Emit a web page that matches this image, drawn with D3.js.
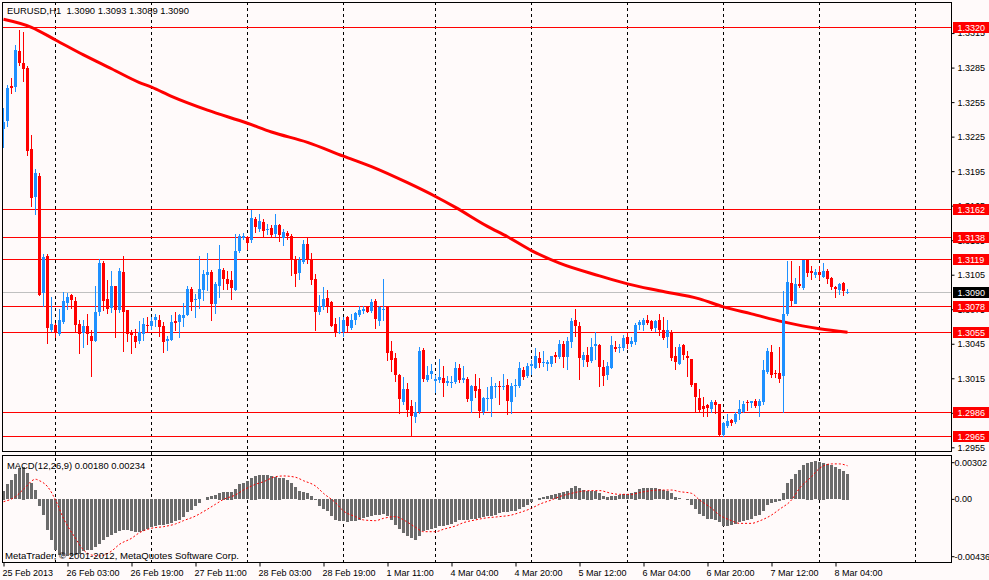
<!DOCTYPE html>
<html>
<head>
<meta charset="utf-8">
<script src="https://cdn.jsdelivr.net/npm/d3@7"></script>
<style>
body { margin: 0; background: #fffafa; }
text { font-family: "Liberation Sans", Arial, sans-serif; }
</style>
</head>
<body>
<script>
var w = 989;
var h = 580;

// EURUSD H1 candles, bar 0 = 25 Feb 2013 11:00
var opens = [1.3232,1.3238,1.3269,1.3268,1.3299,1.3289,1.3285,1.3214,1.3172,1.3191,
1.3089,1.3121,1.3057,1.3061,1.3054,1.3064,1.3081,1.3087,1.3082,1.3062,
1.3054,1.3060,1.3052,1.3048,1.3072,1.3115,1.3084,1.3076,1.3095,1.3074,
1.3107,1.3074,1.3055,1.3052,1.3047,1.3053,1.3061,1.3061,1.3065,1.3066,
1.3060,1.3047,1.3048,1.3065,1.3064,1.3067,1.3070,1.3093,1.3083,1.3084,
1.3092,1.3104,1.3107,1.3080,1.3095,1.3109,1.3101,1.3100,1.3092,1.3126,
1.3137,1.3137,1.3135,1.3153,1.3145,1.3151,1.3144,1.3146,1.3140,1.3148,
1.3137,1.3141,1.3139,1.3119,1.3107,1.3116,1.3132,1.3118,1.3101,1.3073,
1.3077,1.3085,1.3081,1.3062,1.3054,1.3056,1.3068,1.3059,1.3066,1.3070,
1.3073,1.3077,1.3073,1.3082,1.3065,1.3074,1.3077,1.3039,1.3033,1.3018,
1.2995,1.3006,1.2991,1.2982,1.2986,1.3040,1.3014,1.3018,1.3012,1.3013,
1.3015,1.3011,1.3011,1.3012,1.3024,1.3013,1.3014,1.2995,1.3008,1.3006,
1.2986,1.2997,1.2997,1.3007,1.3008,1.3007,1.3009,1.2994,1.3008,1.3008,
1.3022,1.3017,1.3025,1.3024,1.3033,1.3028,1.3027,1.3027,1.3035,1.3034,
1.3045,1.3033,1.3047,1.3066,1.3060,1.3031,1.3035,1.3030,1.3043,1.3044,
1.3025,1.3018,1.3024,1.3042,1.3041,1.3041,1.3051,1.3044,1.3046,1.3061,
1.3062,1.3066,1.3065,1.3059,1.3066,1.3057,1.3051,1.3055,1.3034,1.3027,
1.3044,1.3034,1.3032,1.3011,1.2998,1.2991,1.2992,1.2988,1.2994,1.2993,
1.2966,1.2974,1.2979,1.2977,1.2984,1.2986,1.2994,1.2993,1.2995,1.2991,
1.2994,1.3021,1.3038,1.3020,1.3020,1.3017,1.3071,1.3098,1.3080,1.3097,
1.3094,1.3118,1.3108,1.3104,1.3107,1.3103,1.3108,1.3102,1.3094,1.3092,
1.3098,1.3090];
var highs = [1.3250,1.3270,1.3276,1.3305,1.3318,1.3316,1.3286,1.3226,1.3197,1.3193,
1.3123,1.3123,1.3086,1.3063,1.3075,1.3090,1.3089,1.3088,1.3086,1.3066,
1.3066,1.3071,1.3057,1.3095,1.3119,1.3117,1.3100,1.3108,1.3095,1.3111,
1.3121,1.3074,1.3057,1.3058,1.3065,1.3067,1.3068,1.3068,1.3071,1.3070,
1.3064,1.3052,1.3070,1.3073,1.3071,1.3080,1.3095,1.3094,1.3088,1.3121,
1.3109,1.3124,1.3109,1.3099,1.3131,1.3111,1.3108,1.3108,1.3140,1.3140,
1.3141,1.3139,1.3161,1.3155,1.3158,1.3153,1.3149,1.3148,1.3158,1.3149,
1.3145,1.3143,1.3140,1.3121,1.3120,1.3135,1.3138,1.3124,1.3106,1.3087,
1.3094,1.3092,1.3082,1.3067,1.3068,1.3068,1.3069,1.3071,1.3073,1.3078,
1.3078,1.3077,1.3084,1.3084,1.3078,1.3101,1.3078,1.3047,1.3037,1.3019,
1.3016,1.3011,1.2996,1.2994,1.3042,1.3041,1.3026,1.3027,1.3018,1.3032,
1.3026,1.3017,1.3017,1.3029,1.3027,1.3026,1.3016,1.3009,1.3019,1.3015,
1.2999,1.3007,1.3016,1.3011,1.3013,1.3019,1.3014,1.3011,1.3014,1.3029,
1.3025,1.3028,1.3031,1.3041,1.3038,1.3039,1.3031,1.3034,1.3038,1.3048,
1.3047,1.3051,1.3067,1.3075,1.3064,1.3038,1.3042,1.3050,1.3055,1.3045,
1.3031,1.3029,1.3052,1.3047,1.3045,1.3053,1.3055,1.3051,1.3063,1.3066,
1.3067,1.3070,1.3066,1.3066,1.3071,1.3068,1.3066,1.3057,1.3042,1.3045,
1.3045,1.3039,1.3032,1.3011,1.3006,1.2999,1.2993,1.2996,1.2996,1.2993,
1.2977,1.2984,1.2980,1.2986,1.2996,1.2995,1.2996,1.2995,1.2997,1.2997,
1.3031,1.3041,1.3044,1.3022,1.3042,1.3091,1.3117,1.3117,1.3102,1.3113,
1.3118,1.3119,1.3113,1.3110,1.3113,1.3115,1.3110,1.3103,1.3095,1.3098,
1.3099,1.3093];
var lows = [1.3216,1.3234,1.3263,1.3265,1.3287,1.3273,1.3209,1.3165,1.3158,1.3087,
1.3078,1.3046,1.3056,1.3051,1.3053,1.3063,1.3075,1.3076,1.3055,1.3037,
1.3042,1.3045,1.3017,1.3047,1.3070,1.3074,1.3072,1.3073,1.3051,1.3073,
1.3039,1.3047,1.3037,1.3042,1.3046,1.3048,1.3056,1.3058,1.3060,1.3052,
1.3038,1.3040,1.3048,1.3057,1.3051,1.3060,1.3070,1.3074,1.3068,1.3076,
1.3083,1.3092,1.3066,1.3072,1.3086,1.3093,1.3093,1.3084,1.3092,1.3125,
1.3136,1.3127,1.3133,1.3142,1.3143,1.3139,1.3140,1.3139,1.3139,1.3134,
1.3131,1.3136,1.3105,1.3095,1.3101,1.3115,1.3115,1.3097,1.3057,1.3071,
1.3075,1.3073,1.3060,1.3052,1.3054,1.3052,1.3056,1.3058,1.3062,1.3069,
1.3072,1.3073,1.3073,1.3059,1.3061,1.3066,1.3031,1.3021,1.3013,1.2985,
1.2993,1.2982,1.2965,1.2977,1.2985,1.3013,1.3013,1.3015,1.3003,1.3012,
1.3000,1.3009,1.3007,1.3011,1.3012,1.3012,1.2995,1.2986,1.2999,1.2981,
1.2984,1.2987,1.2982,1.2999,1.2993,1.3006,1.2984,1.2985,1.3000,1.3007,
1.3014,1.3016,1.3019,1.3024,1.3025,1.3026,1.3022,1.3026,1.3029,1.3033,
1.3025,1.3023,1.3042,1.3052,1.3014,1.3026,1.3026,1.3029,1.3032,1.3008,
1.3009,1.3014,1.3024,1.3039,1.3038,1.3040,1.3041,1.3043,1.3045,1.3058,
1.3057,1.3062,1.3057,1.3056,1.3053,1.3049,1.3042,1.3031,1.3023,1.3027,
1.3032,1.3017,1.3008,1.2986,1.2986,1.2982,1.2982,1.2986,1.2985,1.2965,
1.2965,1.2973,1.2974,1.2976,1.2980,1.2986,1.2987,1.2990,1.2990,1.2982,
1.2993,1.3020,1.3016,1.3016,1.3012,1.2986,1.3070,1.3079,1.3080,1.3094,
1.3093,1.3104,1.3101,1.3103,1.3101,1.3103,1.3098,1.3093,1.3086,1.3088,
1.3087,1.3089];
var closes = [1.3238,1.3267,1.3267,1.3300,1.3289,1.3284,1.3213,1.3171,1.3193,1.3088,
1.3120,1.3058,1.3062,1.3055,1.3066,1.3082,1.3086,1.3083,1.3061,1.3053,
1.3060,1.3053,1.3048,1.3073,1.3115,1.3082,1.3075,1.3095,1.3074,1.3108,
1.3072,1.3053,1.3052,1.3047,1.3055,1.3062,1.3060,1.3065,1.3068,1.3060,
1.3046,1.3049,1.3064,1.3063,1.3070,1.3070,1.3093,1.3082,1.3084,1.3093,
1.3106,1.3107,1.3079,1.3097,1.3110,1.3101,1.3097,1.3093,1.3126,1.3139,
1.3139,1.3133,1.3154,1.3146,1.3152,1.3143,1.3145,1.3140,1.3148,1.3139,
1.3142,1.3138,1.3118,1.3106,1.3118,1.3132,1.3118,1.3101,1.3072,1.3078,
1.3084,1.3078,1.3060,1.3055,1.3055,1.3066,1.3060,1.3066,1.3072,1.3074,
1.3075,1.3073,1.3081,1.3066,1.3077,1.3075,1.3037,1.3031,1.3018,1.2997,
1.3006,1.2988,1.2982,1.2986,1.3039,1.3015,1.3018,1.3021,1.3014,1.3016,
1.3011,1.3013,1.3012,1.3024,1.3014,1.3015,1.2997,1.3008,1.3004,1.2987,
1.2998,1.2998,1.3008,1.3008,1.3007,1.3008,1.2995,1.3008,1.3009,1.3024,
1.3016,1.3026,1.3027,1.3034,1.3029,1.3029,1.3029,1.3034,1.3033,1.3045,
1.3034,1.3047,1.3065,1.3061,1.3032,1.3035,1.3029,1.3042,1.3045,1.3025,
1.3017,1.3026,1.3044,1.3040,1.3042,1.3050,1.3045,1.3047,1.3061,1.3064,
1.3066,1.3063,1.3058,1.3065,1.3057,1.3050,1.3057,1.3032,1.3029,1.3042,
1.3035,1.3032,1.3009,1.2999,1.2988,1.2988,1.2989,1.2994,1.2991,1.2966,
1.2976,1.2978,1.2976,1.2984,1.2988,1.2993,1.2993,1.2995,1.2991,1.2995,
1.3022,1.3039,1.3018,1.3019,1.3015,1.3071,1.3099,1.3082,1.3097,1.3095,
1.3118,1.3107,1.3106,1.3107,1.3104,1.3108,1.3101,1.3094,1.3092,1.3097,
1.3091,1.3090];

var maBars = [0,7,13,20,27,34,37,42,51,61,67,76,85,92,101,108,113,121,126,132,139,149,156,164,174,180,187,195,204,211];
var maVals = [1.3327,1.3320,1.3309,1.3296,1.3284,1.3272,1.3268,1.3260,1.3248,1.32366,1.3229,1.3220,
1.3208,1.3199,1.3185,1.3173,1.31635,1.3147,1.3138,1.3126,1.3115,1.3104,1.3097,1.3091,1.3084,1.3077,
1.3071,1.3064,1.3058,1.3055];

// MACD(12,26,9) histogram, one value per bar
var macdHist = [0.00061,0.00105,0.00135,0.00175,0.00216,0.00228,0.00181,0.00112,0.00065,-0.00051,
-0.00113,-0.00213,-0.00287,-0.00352,-0.00387,-0.00399,-0.00399,-0.00394,-0.00392,-0.00380,
-0.00364,-0.00352,-0.00352,-0.00334,-0.00313,-0.00287,-0.00264,-0.00248,-0.00236,-0.00220,
-0.00213,-0.00213,-0.00225,-0.00232,-0.00229,-0.00220,-0.00208,-0.00197,-0.00190,-0.00178,
-0.00178,-0.00171,-0.00167,-0.00155,-0.00143,-0.00127,-0.00092,-0.00074,-0.00051,-0.00027,
0.00003,0.00019,0.00024,0.00031,0.00047,0.00054,0.00054,0.00054,0.00072,0.00105,
0.00112,0.00128,0.00151,0.00165,0.00170,0.00170,0.00170,0.00165,0.00158,0.00151,
0.00147,0.00135,0.00112,0.00084,0.00061,0.00054,0.00042,0.00026,-0.00009,-0.00051,
-0.00069,-0.00085,-0.00120,-0.00143,-0.00155,-0.00155,-0.00162,-0.00155,-0.00150,-0.00143,
-0.00132,-0.00127,-0.00120,-0.00113,-0.00109,-0.00102,-0.00116,-0.00148,-0.00178,-0.00208,
-0.00236,-0.00255,-0.00271,-0.00283,-0.00255,-0.00225,-0.00213,-0.00208,-0.00201,-0.00190,
-0.00185,-0.00178,-0.00171,-0.00162,-0.00148,-0.00143,-0.00143,-0.00139,-0.00136,-0.00130,
-0.00125,-0.00120,-0.00116,-0.00109,-0.00097,-0.00092,-0.00090,-0.00085,-0.00081,-0.00069,
-0.00055,-0.00039,-0.00023,0.00003,0.00012,0.00017,0.00024,0.00031,0.00038,0.00047,
0.00052,0.00058,0.00077,0.00093,0.00082,0.00065,0.00061,0.00061,0.00056,0.00047,
0.00024,0.00019,0.00026,0.00026,0.00028,0.00035,0.00035,0.00042,0.00054,0.00070,
0.00077,0.00082,0.00082,0.00077,0.00072,0.00065,0.00061,0.00042,0.00019,0.00007,
0.00000,-0.00004,-0.00039,-0.00069,-0.00102,-0.00120,-0.00136,-0.00139,-0.00143,-0.00162,
-0.00185,-0.00185,-0.00183,-0.00171,-0.00162,-0.00155,-0.00148,-0.00139,-0.00120,-0.00109,
-0.00081,-0.00039,-0.00027,-0.00020,-0.00011,0.00047,0.00112,0.00142,0.00174,0.00205,
0.00240,0.00256,0.00263,0.00267,0.00263,0.00256,0.00247,0.00240,0.00223,0.00212,
0.00200,0.00180];

var signalBars = [0,3,5,8,9,11,13,15,18,20,22,24,27,29,32,34,37,40,43,45,48,50,53,55,58,60,63,65,68,70,
73,75,78,80,83,85,88,90,93,95,98,100,103,105,108,110,113,115,118,120,124,127,129,132,134,137,139,142,144,147,
149,152,154,157,159,162,164,167,169,172,174,177,179,182,184,187,189,192,194,197,199,202,204,207,209,211];
var signalVals = [-0.00016,0.00019,0.00070,0.00140,0.00130,0.00089,-0.00004,-0.00132,-0.00271,-0.00352,
-0.00387,-0.00394,-0.00360,-0.00313,-0.00271,-0.00232,-0.00201,-0.00190,-0.00171,-0.00148,
-0.00116,-0.00085,-0.00034,0.00000,0.00031,0.00065,0.00105,0.00123,0.00158,0.00163,
0.00154,0.00130,0.00093,0.00042,-0.00023,-0.00081,-0.00120,-0.00143,-0.00148,-0.00132,
-0.00120,-0.00143,-0.00194,-0.00225,-0.00225,-0.00208,-0.00185,-0.00162,-0.00143,-0.00132,
-0.00120,-0.00109,-0.00092,-0.00062,-0.00034,-0.00004,0.00019,0.00042,0.00054,0.00061,
0.00061,0.00042,0.00035,0.00035,0.00047,0.00061,0.00065,0.00065,0.00054,0.00042,
-0.00004,-0.00062,-0.00109,-0.00148,-0.00167,-0.00167,-0.00150,-0.00109,-0.00069,-0.00004,
0.00077,0.00158,0.00216,0.00247,0.00247,0.00234];

var levels = [1.3320, 1.3162, 1.3138, 1.3119, 1.3078, 1.3055, 1.2986, 1.2965];
var bidPrice = 1.3090;
var priceTicks = [1.2955,1.2985,1.3015,1.3045,1.3075,1.3105,1.3135,1.3165,1.3195,1.3225,1.3255,1.3285,1.3315];
var macdTicks = [0.00302, 0, -0.00436];
var macdTickLabels = ["0.00302", "0.00", "-0.00436"];
var dayBars = [13,37,61,85,108,132,156,180,204,228];
var dateBars = [0,16,32,48,64,80,96,112,128,144,160,176,192,208];
var dateLabels = ["25 Feb 2013","26 Feb 03:00","26 Feb 19:00","27 Feb 11:00","28 Feb 03:00","28 Feb 19:00",
"1 Mar 11:00","4 Mar 04:00","4 Mar 20:00","5 Mar 12:00","6 Mar 04:00","6 Mar 20:00","7 Mar 12:00","8 Mar 04:00"];

var left = 2.5, right = 951.5;
var mainTop = 2, mainBottom = 451;
var subTop = 456, subBottom = 562;

var xScale = d3.scaleLinear().domain([0, 236]).range([3.5, 947.5]);
var yScale = d3.scaleLinear().domain([1.29518, 1.33420]).range([mainBottom, mainTop]);
var mScale = d3.scaleLinear().domain([-0.00436, 0.00302]).range([subBottom, subTop]);

var svg = d3.select("body")
    .append("svg")
    .attr("width", w)
    .attr("height", h)
    .style("display", "block")
    .style("background", "#fffafa");

// day separators
svg.selectAll("line.day")
    .data(dayBars)
    .enter()
    .append("line")
    .attr("x1", function (d) { return xScale(d); })
    .attr("x2", function (d) { return xScale(d); })
    .attr("y1", mainTop)
    .attr("y2", subBottom)
    .attr("stroke", "#000")
    .attr("stroke-dasharray", "3,3")
    .attr("shape-rendering", "crispEdges");

// bid line and horizontal levels
svg.append("line")
    .attr("x1", left).attr("x2", right)
    .attr("y1", Math.round(yScale(bidPrice)) + 0.5)
    .attr("y2", Math.round(yScale(bidPrice)) + 0.5)
    .attr("stroke", "#c0c0c0");

svg.selectAll("line.level")
    .data(levels)
    .enter()
    .append("line")
    .attr("x1", left).attr("x2", right)
    .attr("y1", function (d) { return Math.round(yScale(d)) + 0.5; })
    .attr("y2", function (d) { return Math.round(yScale(d)) + 0.5; })
    .attr("stroke", "#ff0000");

// moving average
var maLine = d3.line()
    .x(function (d) { return xScale(d); })
    .y(function (d, i) { return yScale(maVals[i]); })
    .curve(d3.curveMonotoneX);
svg.append("path")
    .attr("d", maLine(maBars))
    .attr("fill", "none")
    .attr("stroke", "#ff0000")
    .attr("stroke-width", 3);

// candles
var bars = d3.range(opens.length);
var candle = svg.selectAll("g.candle")
    .data(bars)
    .enter()
    .append("g")
    .attr("shape-rendering", "crispEdges")
    .attr("fill", function (i) { return closes[i] >= opens[i] ? "#1e90ff" : "#ff0000"; })
    .attr("stroke", function (i) { return closes[i] >= opens[i] ? "#1e90ff" : "#ff0000"; });

candle.append("line")
    .attr("x1", function (i) { return xScale(i); })
    .attr("x2", function (i) { return xScale(i); })
    .attr("y1", function (i) { return Math.round(yScale(highs[i])); })
    .attr("y2", function (i) { return Math.round(yScale(lows[i])) + 1; });

candle.append("rect")
    .attr("stroke", "none")
    .attr("x", function (i) { return xScale(i) - 1.5; })
    .attr("width", 3)
    .attr("y", function (i) { return Math.round(Math.min(yScale(opens[i]), yScale(closes[i]))); })
    .attr("height", function (i) { return Math.max(1, Math.round(Math.abs(yScale(opens[i]) - yScale(closes[i])))); });

// MACD histogram
svg.selectAll("rect.hist")
    .data(bars)
    .enter()
    .append("rect")
    .attr("shape-rendering", "crispEdges")
    .attr("x", function (i) { return xScale(i) - 1.5; })
    .attr("width", 3)
    .attr("y", function (i) { return Math.round(Math.min(mScale(0), mScale(macdHist[i]))); })
    .attr("height", function (i) { return Math.round(Math.abs(mScale(0) - mScale(macdHist[i]))); })
    .attr("fill", "#6b6b6b");

var sigLine = d3.line()
    .x(function (d) { return xScale(d); })
    .y(function (d, i) { return mScale(signalVals[i]); })
    .curve(d3.curveMonotoneX);
svg.append("path")
    .attr("d", sigLine(signalBars))
    .attr("fill", "none")
    .attr("stroke", "#ff0000")
    .attr("stroke-dasharray", "2,2");

// panel frames
svg.append("rect")
    .attr("x", left).attr("y", mainTop + 0.5)
    .attr("width", right - left).attr("height", mainBottom - mainTop)
    .attr("fill", "none").attr("stroke", "#000");
svg.append("rect")
    .attr("x", left).attr("y", 455.5)
    .attr("width", right - left).attr("height", subBottom + 0.5 - 455.5)
    .attr("fill", "none").attr("stroke", "#000");

// price axis
var yAxis = svg.append("g")
    .attr("transform", "translate(" + right + ",0)")
    .call(d3.axisRight(yScale)
        .tickValues(priceTicks)
        .tickSize(3)
        .tickFormat(d3.format(".4f")));
yAxis.select(".domain").remove();
yAxis.selectAll("text").attr("font-size", "9px").attr("font-family", "Liberation Sans, Arial, sans-serif").attr("fill", "#000");

// level labels
var lab = svg.selectAll("g.lab")
    .data(levels)
    .enter()
    .append("g")
    .attr("transform", function (d) { return "translate(0," + (Math.round(yScale(d)) + 0.5) + ")"; });
lab.append("rect")
    .attr("x", 953).attr("y", -5.5)
    .attr("width", 36).attr("height", 11)
    .attr("fill", "#ff0000");
lab.append("text")
    .attr("x", 957.5).attr("dy", "0.34em")
    .attr("font-size", "9px")
    .attr("fill", "#fff")
    .text(function (d) { return d.toFixed(4); });

var bid = svg.append("g")
    .attr("transform", "translate(0," + (Math.round(yScale(bidPrice)) + 0.5) + ")");
bid.append("rect")
    .attr("x", 953).attr("y", -5.5)
    .attr("width", 36).attr("height", 11)
    .attr("fill", "#000");
bid.append("text")
    .attr("x", 957.5).attr("dy", "0.34em")
    .attr("font-size", "9px")
    .attr("fill", "#fff")
    .text(bidPrice.toFixed(4));

// MACD axis (edge labels are pulled inside the panel)
var mTick = svg.selectAll("g.mtick")
    .data(macdTicks)
    .enter()
    .append("g")
    .attr("transform", function (d) {
        var y = Math.max(subTop + 6.7, Math.min(subBottom - 5.3, mScale(d)));
        return "translate(" + right + "," + y + ")";
    });
mTick.append("line").attr("x2", 3).attr("stroke", "#000");
mTick.append("text")
    .attr("x", 3).attr("dy", "0.34em")
    .attr("font-size", "9px")
    .text(function (d, i) { return macdTickLabels[i]; });

// time axis
var xAxis = svg.append("g")
    .attr("transform", "translate(0," + (subBottom + 0.5) + ")")
    .call(d3.axisBottom(xScale)
        .tickValues(dateBars)
        .tickSize(4)
        .tickFormat(function (d, i) { return dateLabels[i]; }));
xAxis.select(".domain").remove();
xAxis.selectAll("text")
    .attr("text-anchor", "start")
    .attr("x", -1.5)
    .attr("font-size", "9px")
    .attr("font-family", "Liberation Sans, Arial, sans-serif")
    .attr("fill", "#000");

// captions
svg.append("text")
    .attr("x", 7).attr("y", 14)
    .attr("font-size", "9.4px")
    .attr("xml:space", "preserve")
    .style("white-space", "pre")
    .text("EURUSD,H1  " + opens[211].toFixed(4) + " " + highs[211].toFixed(4) + " " + lows[211].toFixed(4) + " " + closes[211].toFixed(4));

svg.append("text")
    .attr("x", 7).attr("y", 469)
    .attr("font-size", "9.4px")
    .text("MACD(12,26,9) " + macdHist[211].toFixed(5) + " " + signalVals[signalVals.length - 1].toFixed(5));

svg.append("text")
    .attr("x", 5).attr("y", 559)
    .attr("font-size", "9.6px")
    .text("MetaTrader, \u00a9 2001-2012, MetaQuotes Software Corp.");
</script>
</body>
</html>
